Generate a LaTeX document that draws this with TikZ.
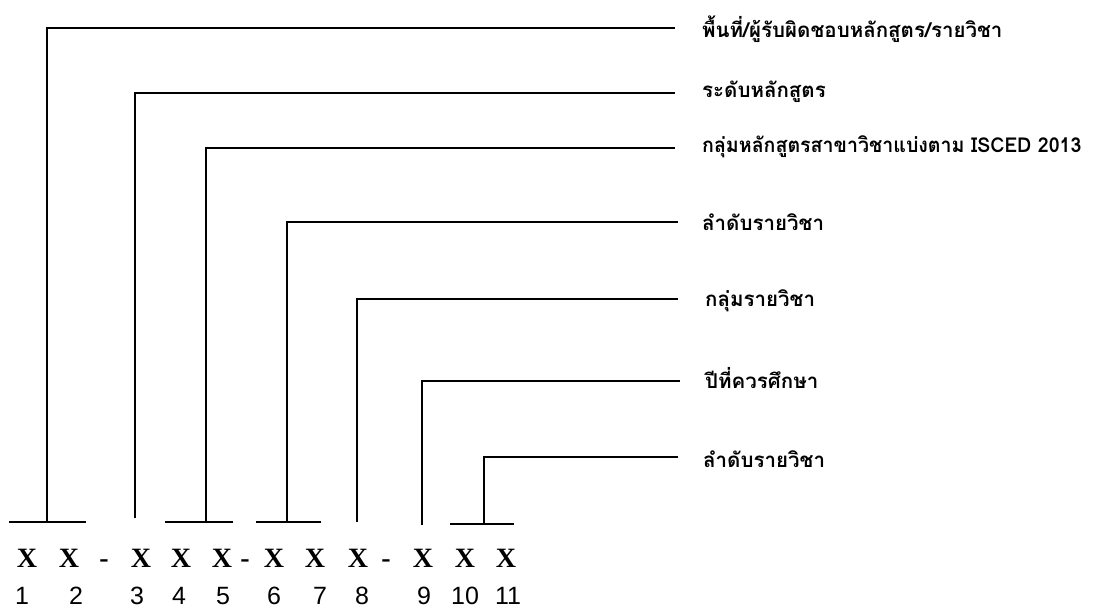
\documentclass[tikz,border=0pt]{standalone}
\usepackage{fontspec}
\newfontfamily\thaifont[Script=Thai]{Loma}
\newfontfamily\xfont{Liberation Serif}
\newfontfamily\numfont{Liberation Sans}
\begin{document}
\begin{tikzpicture}[x=1pt,y=-1pt,
  conn/.style={line width=2pt},
  bar/.style={line width=2pt},
  lbl/.style={anchor=base west,inner sep=0pt,font=\thaifont\bfseries\fontsize{20.5}{24}\selectfont},
  xch/.style={anchor=base,inner sep=0pt,font=\xfont\bfseries\fontsize{28}{32}\selectfont},
  num/.style={anchor=base,inner sep=0pt,font=\numfont\fontsize{25}{28}\selectfont}]
\useasboundingbox (0,0) rectangle (1097,609);
% labels
\node[lbl] (l1) at (702,38) {พื้นที่/ผู้รับผิดชอบหลักสูตร/รายวิชา};
\node[lbl] (l2) at (702,98) {ระดับหลักสูตร};
\node[lbl] (l3) at (702,153) {\scalebox{0.955}[1]{กลุ่มหลักสูตรสาขาวิชาแบ่งตาม ISCED 2013}};
\node[lbl] (l4) at (702,231) {ลำดับรายวิชา};
\node[lbl] (l5) at (705,307) {กลุ่มรายวิชา};
\node[lbl] (l6) at (705,388) {ปีที่ควรศึกษา};
\node[lbl] (l7) at (703,467) {ลำดับรายวิชา};
% code characters
\node[xch] (x1) at (27,567) {X};
\node[xch] (x2) at (69,567) {X};
\node[xch] (d1) at (104,567) {-};
\node[xch] (x3) at (141,567) {X};
\node[xch] (x4) at (181,567) {X};
\node[xch] (x5) at (222,567) {X};
\node[xch] (d2) at (245,567) {-};
\node[xch] (x6) at (274,567) {X};
\node[xch] (x7) at (315,567) {X};
\node[xch] (x8) at (358,567) {X};
\node[xch] (d3) at (386,567) {-};
\node[xch] (x9) at (423,567) {X};
\node[xch] (x10) at (465,567) {X};
\node[xch] (x11) at (506,567) {X};
% digits
\node[num] (n1) at (22,604) {1};
\node[num] (n2) at (76,604) {2};
\node[num] (n3) at (137,604) {3};
\node[num] (n4) at (179,604) {4};
\node[num] (n5) at (223,604) {5};
\node[num] (n6) at (274,604) {6};
\node[num] (n7) at (320,604) {7};
\node[num] (n8) at (362,604) {8};
\node[num] (n9) at (424,604) {9};
\node[num] (n10) at (465,604) {10};
\node[num] (n11) at (508,604) {11};
% bars under groups
\coordinate (b1l) at (9,522);  \coordinate (b1r) at (86,522);
\coordinate (b3l) at (165,522); \coordinate (b3r) at (233,522);
\coordinate (b4l) at (256,522); \coordinate (b4r) at (321,522);
\coordinate (b7l) at (450,524); \coordinate (b7r) at (514,524);
\draw[bar] (b1l) -- (b1r);
\draw[bar] (b3l) -- (b3r);
\draw[bar] (b4l) -- (b4r);
\draw[bar] (b7l) -- (b7r);
% connector bottoms
\coordinate (s1) at (47,522);
\coordinate (s2) at (135,518);
\coordinate (s3) at (206,522);
\coordinate (s4) at (287,522);
\coordinate (s5) at (357,522);
\coordinate (s6) at (422,525);
\coordinate (s7) at (484,524);
% connector ends
\coordinate (e1) at (675,28);
\coordinate (e2) at (675,93);
\coordinate (e3) at (675,148);
\coordinate (e4) at (678,222);
\coordinate (e5) at (678,299);
\coordinate (e6) at (680,381);
\coordinate (e7) at (678,457);
\foreach \i in {1,...,7} {\draw[conn] (s\i) |- (e\i);}
\end{tikzpicture}
\end{document}
